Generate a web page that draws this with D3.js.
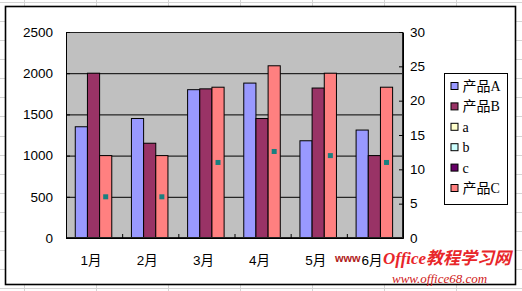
<!DOCTYPE html>
<html>
<head>
<meta charset="utf-8">
<script src="https://cdn.jsdelivr.net/npm/d3@7"></script>
<style>
  body { margin: 0; background: #fff; }
  svg { display: block; }
  .tick text { font-family: "Liberation Sans", Arial, "Noto Sans CJK SC", sans-serif; font-size: 13.5px; fill: #000; }
  .axis path { stroke: #000; }
  .axis line { stroke: #000; }
</style>
</head>
<body>
<div class="chart"></div>
<script>
const months = ['1月', '2月', '3月', '4月', '5月', '6月'];
const productA = [1350, 1450, 1800, 1880, 1180, 1310];
const productB = [2000, 1150, 1810, 1450, 1820, 1000];
const productC = [1000, 1000, 1830, 2090, 2000, 1830];
const markerValues = [6, 6, 11, 12.6, 12, 11];
const leftTicks = [0, 500, 1000, 1500, 2000, 2500];
const rightTicks = [0, 5, 10, 15, 20, 25, 30];
const legendNames = ['产品A', '产品B', 'a', 'b', 'c', '产品C'];
const legendColors = ['#9999FF', '#993366', '#FFFFCC', '#CCFFFF', '#660066', '#FF8080'];

const W = 522, H = 291;
const plot = {left: 66, right: 403, top: 32, bottom: 238};

const svg = d3.select('.chart').append('svg')
    .attr('width', W)
    .attr('height', H);

// excel sheet grid behind the chart
const sheet = svg.append('g').attr('stroke', '#d4d4d4').attr('stroke-width', 1);
for (let y = 1.8; y < H; y += 19.1) {
  sheet.append('line').attr('x1', 0).attr('x2', W).attr('y1', Math.round(y) + 0.5).attr('y2', Math.round(y) + 0.5);
}
for (let x = 24; x < W; x += 72) {
  sheet.append('line').attr('x1', x + 0.5).attr('x2', x + 0.5).attr('y1', 0).attr('y2', H);
}

// chart area
svg.append('rect')
    .attr('x', 5.5).attr('y', 6.5)
    .attr('width', 510).attr('height', 278)
    .attr('fill', '#fff')
    .attr('stroke', '#000')
    .attr('stroke-width', 1.6);

const x = d3.scaleBand()
    .domain(months)
    .range([plot.left, plot.right]);

const x1 = d3.scaleBand()
    .domain(['A', 'B', 'C'])
    .range([x.bandwidth() * 0.165, x.bandwidth() * 0.815]);

const y = d3.scaleLinear()
    .domain([0, 2500])
    .range([plot.bottom, plot.top]);

const y2 = d3.scaleLinear()
    .domain([0, 30])
    .range([plot.bottom, plot.top]);

// plot area
svg.append('rect')
    .attr('x', plot.left).attr('y', plot.top)
    .attr('width', plot.right - plot.left).attr('height', plot.bottom - plot.top)
    .attr('fill', '#C0C0C0');

svg.append('g')
    .attr('class', 'grid')
    .attr('transform', `translate(${plot.left},0)`)
    .call(d3.axisLeft(y).tickValues([500, 1000, 1500, 2000]).tickSize(-(plot.right - plot.left)).tickFormat(''))
    .call(g => g.select('.domain').remove())
    .call(g => g.selectAll('line').attr('stroke', '#000'));

const rows = months.map((m, i) => ({month: m, A: productA[i], B: productB[i], C: productC[i], dot: markerValues[i]}));

const groups = svg.append('g')
  .selectAll('g')
  .data(rows)
  .enter().append('g')
    .attr('transform', d => `translate(${x(d.month)},0)`);

groups.selectAll('rect')
  .data(d => [
    {key: 'A', value: d.A, color: legendColors[0]},
    {key: 'B', value: d.B, color: legendColors[1]},
    {key: 'C', value: d.C, color: legendColors[5]}
  ])
  .enter().append('rect')
    .attr('x', d => x1(d.key))
    .attr('y', d => y(d.value))
    .attr('width', x1.bandwidth())
    .attr('height', d => y(0) - y(d.value))
    .attr('fill', d => d.color)
    .attr('stroke', '#000')
    .attr('stroke-width', 1);

groups.append('rect')
    .attr('x', x1('C') + x1.bandwidth() / 2 - 2.5)
    .attr('y', d => y2(d.dot) - 2.5)
    .attr('width', 5)
    .attr('height', 5)
    .attr('fill', '#1A7F7F');

svg.append('rect')
    .attr('x', plot.left + 0.5).attr('y', plot.top + 0.5)
    .attr('width', plot.right - plot.left - 1).attr('height', plot.bottom - plot.top - 1)
    .attr('fill', 'none')
    .attr('stroke', '#222');

// axes
svg.append('g')
    .attr('class', 'axis')
    .attr('transform', `translate(${plot.left},0)`)
    .call(d3.axisLeft(y).tickValues(leftTicks).tickFormat(d3.format('d'))
      .tickSizeInner(-4).tickSizeOuter(0).tickPadding(13));

svg.append('g')
    .attr('class', 'axis')
    .attr('transform', `translate(${plot.right},0)`)
    .call(d3.axisRight(y2).tickValues(rightTicks).tickSizeInner(-4).tickSizeOuter(0).tickPadding(7));

svg.append('g')
    .attr('class', 'axis')
    .attr('transform', `translate(0,${plot.bottom})`)
    .call(d3.axisBottom(d3.scaleLinear().domain([0, months.length]).range([plot.left, plot.right]))
      .ticks(months.length).tickSize(-4).tickFormat(''));

svg.append('g')
    .attr('class', 'axis')
    .attr('transform', `translate(-3,${plot.bottom})`)
    .call(d3.axisBottom(x).tickSize(0).tickPadding(17))
    .call(g => g.select('.domain').remove());

// legend
const legend = svg.append('g').attr('transform', 'translate(444,73)');
legend.append('rect')
    .attr('x', 0.5).attr('y', 0.5)
    .attr('width', 63).attr('height', 131)
    .attr('fill', '#fff')
    .attr('stroke', '#000');

const items = legend.selectAll('.item')
  .data(legendNames)
  .enter().append('g')
    .attr('class', 'item')
    .attr('transform', (d, i) => `translate(0,${13 + i * 20.4})`);

items.append('rect')
    .attr('x', 7).attr('y', -3.5)
    .attr('width', 7).attr('height', 7)
    .attr('fill', (d, i) => legendColors[i])
    .attr('stroke', '#000');

items.append('text')
    .attr('x', 18.5)
    .attr('y', 0)
    .attr('dy', '0.36em')
    .attr('font-family', '"Liberation Serif", "Noto Sans CJK SC", serif')
    .attr('font-size', 14)
    .text(d => d);

// watermark
svg.append('text')
    .attr('x', 335).attr('y', 262)
    .attr('font-family', '"Liberation Sans", sans-serif')
    .attr('font-weight', 'bold')
    .attr('font-size', 11)
    .attr('fill', '#b02020')
    .text('www');
svg.append('text')
    .attr('x', 383).attr('y', 264)
    .attr('font-family', '"Liberation Serif", "Noto Sans CJK SC", serif')
    .attr('font-style', 'italic')
    .attr('font-weight', 'bold')
    .attr('font-size', 17)
    .attr('fill', '#e8262a')
    .text('Office教程学习网');
svg.append('text')
    .attr('x', 392).attr('y', 283)
    .attr('font-family', '"Liberation Serif", serif')
    .attr('font-style', 'italic')
    .attr('font-size', 13)
    .attr('fill', '#d02020')
    .text('www.office68.com');
</script>
</body>
</html>
